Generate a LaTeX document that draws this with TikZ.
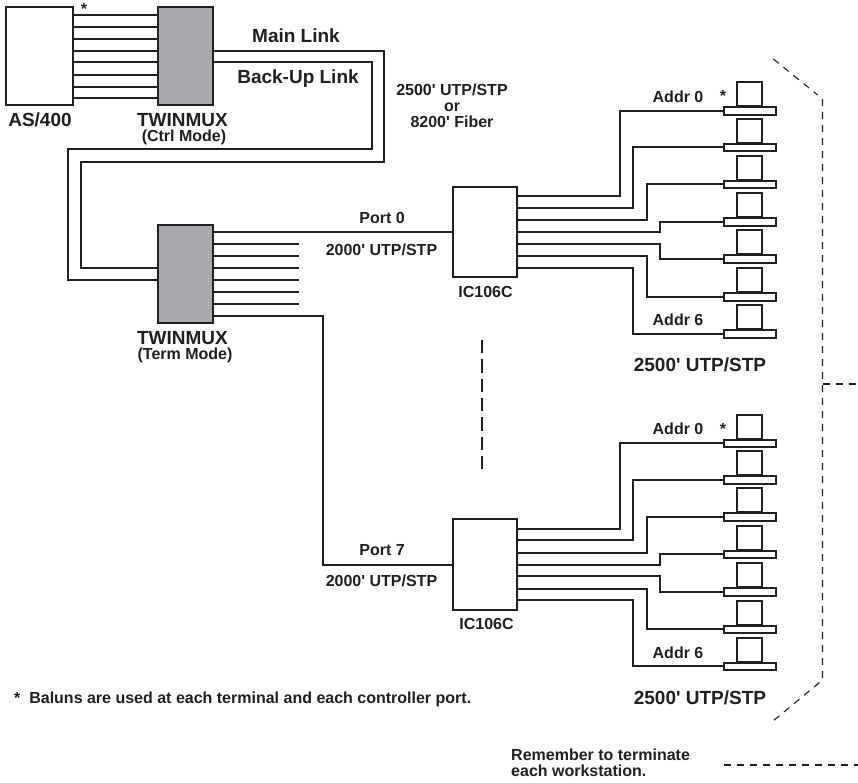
\documentclass[tikz,border=0pt]{standalone}
\usepackage{fontspec}
\setmainfont{Liberation Sans}
\usetikzlibrary{calc}
\definecolor{muxgray}{RGB}{167, 169, 172}
\definecolor{inkdark}{RGB}{35, 31, 32}
\newcommand{\ft}{\textquotesingle}
\tikzset{
    wire/.style={inkdark, line width=2pt},
    boxnode/.style={draw=inkdark, fill=white, line width=2pt, inner sep=0pt, outer sep=0pt},
    muxnode/.style={boxnode, fill=muxgray, minimum width=55pt, minimum height=98pt},
    thindash/.style={inkdark, line width=1.1pt, dash pattern=on 7pt off 6pt},
    biglabel/.style={inkdark, font=\fontsize{19}{21}\selectfont\bfseries, inner sep=0pt},
    smalllabel/.style={inkdark, font=\fontsize{16}{16}\selectfont\bfseries, inner sep=0pt, align=center}
}
% one controller with its seven stations, y is the offset of the group
\newcommand{\icgroup}[3]{
    \begin{scope}[shift={(0, #2)}]
        \node[boxnode, minimum width=64pt, minimum height=90.6pt] (ic#1) at (484.7, 232) {};
        \node[smalllabel] (iclabel#1) at (#3, 291.5) {IC106C};
        \foreach \i/\yfrom/\yto/\xbend in {0/196/110.7/619.7, 1/207.7/147.3/633, 2/220.3/184.3/646.7,
                3/232/221.7/659.7, 4/243.7/259/659.7, 5/256/296.7/646.7, 6/267.7/333.7/633} {
            \node[boxnode, minimum width=25pt, minimum height=24pt] (screen#1\i) at (749.8, \yto-16.7) {};
            \node[boxnode, minimum width=51.7pt, minimum height=7.6pt] (base#1\i) at (749.8, \yto) {};
            \coordinate (out#1\i) at (516.7, \yfrom);
            \draw[wire] (out#1\i) -| (\xbend, \yto) -- (base#1\i.west);
        }
        \node[smalllabel] (addrtop#1) at (678, 96.5) {Addr 0};
        \node[smalllabel] (startop#1) at (723, 96) {*};
        \node[smalllabel] (addrbot#1) at (678, 320) {Addr 6};
        \node[biglabel] (utp#1) at (700, 365) {2500\ft{} UTP/STP};
    \end{scope}
}

\begin{document}
\begin{tikzpicture}[x=1pt, y=-1pt]
    \useasboundingbox (0, 0) rectangle (858, 782);

    % host and the two multiplexers
    \node[boxnode, minimum width=67.5pt, minimum height=98pt] (host) at (39.25, 56) {};
    \node[muxnode] (ctrl) at (185.5, 56) {};
    \node[muxnode] (term) at (185.5, 274) {};

    % eight lines from the host
    \foreach \y in {14.7, 26.7, 38.7, 50.7, 62.4, 74.5, 86.5, 98.3} {
        \draw[wire] (host.east |- 0, \y) -- (ctrl.west |- 0, \y);
    }

    % main and back-up link
    \draw[wire] (ctrl.east |- 0, 50.7) -| (383.5, 161.7) -| (81, 268) -- (term.west |- 0, 268);
    \draw[wire] (ctrl.east |- 0, 62.4) -| (371.5, 149) -| (67.5, 280.3) -- (term.west |- 0, 280.3);

    % open ports of the lower multiplexer
    \foreach \i/\y in {1/244.3, 2/256.3, 3/268, 4/280.3, 5/292.3, 6/304} {
        \coordinate (open\i) at (298.5, \y);
        \draw[wire] (term.east |- open\i) -- (open\i);
    }

    % controllers
    \icgroup{A}{0}{485.5}
    \icgroup{B}{332.7}{486.5}
    \draw[wire] (term.east |- 0, 232.3) -- (icA.west |- 0, 232.3);
    \draw[wire] (term.east |- 0, 316) -| (323, 565) -- (icB.west |- 0, 565);

    % dashes between the two groups
    \draw[inkdark, line width=2.2pt, dash pattern=on 13.3pt off 6pt] (482, 340) -- (482, 468.5);

    % bracket round the workstations
    \draw[thindash] (773.3, 59) -- (817.7, 95);
    \draw[thindash] (822.5, 99) -- (822.5, 680) -- (773, 721);
    \draw[thindash] (822.5, 384) -- (858, 384);
    \draw[thindash] (724, 765) -- (858, 765);

    % labels
    \node[biglabel] (hostlabel) at (40, 120) {AS/400};
    \node[biglabel] (ctrllabel) at (182.5, 120) {TWINMUX};
    \node[smalllabel] (ctrlmode) at (184, 137.5) {(Ctrl Mode)};
    \node[biglabel] (termlabel) at (182.5, 338) {TWINMUX};
    \node[smalllabel] (termmode) at (185, 355.5) {(Term Mode)};
    \node[smalllabel] (hoststar) at (84, 8.5) {*};
    \node[biglabel] (mainlabel) at (296, 36) {Main Link};
    \node[biglabel] (backlabel) at (298, 79) {Back-Up Link};
    \node[smalllabel] (fiberlabel) at (452, 106) {2500\ft{} UTP/STP\\or\\8200\ft{} Fiber};
    \node[smalllabel] (port0) at (382, 218) {Port 0};
    \node[smalllabel] (cable0) at (381.5, 250) {2000\ft{} UTP/STP};
    \node[smalllabel] (port7) at (382, 550) {Port 7};
    \node[smalllabel] (cable7) at (381.5, 581) {2000\ft{} UTP/STP};
    \node[smalllabel, anchor=west] (balunnote) at (14, 699) {*\ \ Baluns are used at each terminal and each controller port.};
    \node[smalllabel, anchor=west, align=left] (remember) at (511, 763) {Remember to terminate\\each workstation.};
\end{tikzpicture}
\end{document}
